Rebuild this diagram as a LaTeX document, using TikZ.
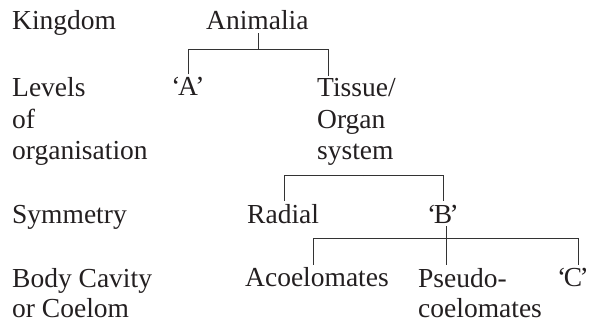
\documentclass[tikz,border=0pt]{standalone}
\usepackage{fontspec}
\setmainfont{Liberation Serif}
\definecolor{ink}{HTML}{231F20}
\definecolor{linec}{HTML}{333333}
\newcommand{\qlab}[1]{‘\kern-2.5pt#1\kern-2.5pt’}
\begin{document}
\begin{tikzpicture}[x=1pt,y=-1pt,
  lbl/.style={anchor=base west,inner xsep=0pt,inner ysep=3pt,align=left,text=ink,
    font=\fontsize{27.5}{31.5}\selectfont},
  qlbl/.style={lbl,anchor=base},
  conn/.style={draw=linec,line width=0.9pt}]
\useasboundingbox (0,0) rectangle (595,326);
% left labels (multi-line nodes are placed by the baseline of their last line)
\node[lbl] (kingdom) at (12,30) {Kingdom};
\node[lbl] (levels) at (12,160) {Levels\\of\\organisation};
\node[lbl] (symm) at (12,223) {Symmetry};
\node[lbl,font=\fontsize{27.5}{30}\selectfont] (cavity) at (12,317) {Body Cavity\\or Coelom};
% tree nodes
\node[lbl] (animalia) at (206,30) {Animalia};
\node[qlbl] (A) at (188,96) {\qlab{A}};
\node[lbl] (tissue) at (317,160) {Tissue/\\Organ\\system};
\node[lbl] (radial) at (247,223) {Radial};
\node[qlbl] (B) at (443,223) {\qlab{B}};
\node[lbl] (acoel) at (245,287) {Acoelomates};
\node[lbl,font=\fontsize{27.5}{30}\selectfont] (pseudo) at (418,317) {Pseudo-\\coelomates};
\node[qlbl] (C) at (573,287) {\qlab{C}};
% junction coordinates
\coordinate (j1) at (258,49);
\coordinate (t1) at (328,49);
\coordinate (j2) at (363,175);
\coordinate (l2) at (284,175);
\coordinate (r2) at (443,175);
\coordinate (j3) at (446,238);
\coordinate (l3) at (313,238);
\coordinate (r3) at (578,238);
% level 1
\draw[conn] (animalia.south -| j1) -- (j1);
\draw[conn] (A.north) |- (t1) -- (t1 |- tissue.north);
% level 2
\draw[conn] ([yshift=-7pt]j2 |- tissue.south) -- (j2);
\draw[conn] (l2 |- radial.north) -- (l2) -- (r2) -- (r2 |- B.north);
% level 3
\draw[conn] (j3 |- B.south) -- (j3 |- pseudo.north);
\draw[conn] (l3 |- acoel.north) -- (l3) -- (r3) -- (r3 |- C.north);
\end{tikzpicture}
\end{document}
